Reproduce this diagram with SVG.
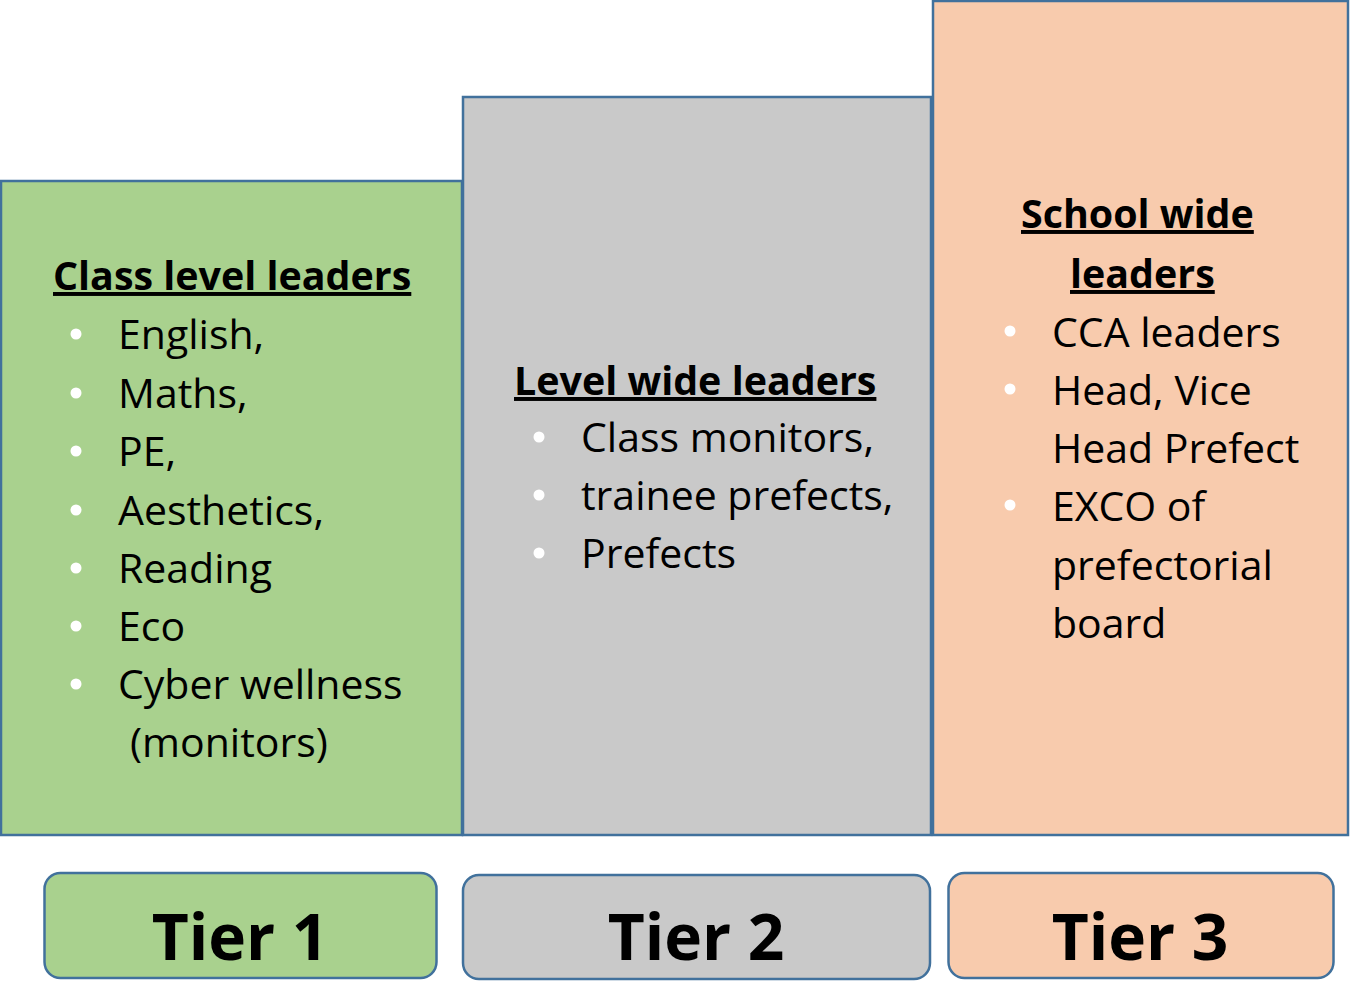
<svg xmlns="http://www.w3.org/2000/svg" width="1357" height="986" viewBox="0 0 1357 986">
<style>
.box{stroke:#41719C;stroke-width:2.5}
.g{fill:#A9D18E}
.gr{fill:#C9C9C9}
.p{fill:#F8CBAD}
.h{font-family:"Open Sans","Noto Sans",sans-serif;font-weight:bold;font-size:39.4px;fill:#000;text-decoration:underline}
.t{font-family:"Open Sans","Noto Sans",sans-serif;font-size:41px;fill:#000}
.tier{font-family:"Open Sans","Noto Sans",sans-serif;font-weight:bold;font-size:64px;fill:#000;text-anchor:middle}
.b{fill:#fff}
</style>
<rect width="1357" height="986" fill="#fff"/>
<g id="tier1-panel">
<rect class="box g" x="1" y="181" width="461" height="654"/>
<text class="h" x="53" y="290">Class level leaders</text>
<circle class="b" cx="76" cy="334" r="5.5"/><text class="t" x="118" y="349">English,</text>
<circle class="b" cx="76" cy="393" r="5.5"/><text class="t" x="118" y="408">Maths,</text>
<circle class="b" cx="76" cy="451" r="5.5"/><text class="t" x="118" y="466">PE,</text>
<circle class="b" cx="76" cy="510" r="5.5"/><text class="t" x="118" y="525">Aesthetics,</text>
<circle class="b" cx="76" cy="568" r="5.5"/><text class="t" x="118" y="583">Reading</text>
<circle class="b" cx="76" cy="626" r="5.5"/><text class="t" x="118" y="641">Eco</text>
<circle class="b" cx="76" cy="684" r="5.5"/><text class="t" x="118" y="699">Cyber wellness</text>
<text class="t" x="130" y="757">(monitors)</text>
</g>
<g id="tier2-panel">
<rect class="box gr" x="463" y="97" width="468" height="738"/>
<text class="h" x="514" y="395">Level wide leaders</text>
<circle class="b" cx="539" cy="437" r="5.5"/><text class="t" x="581" y="452">Class monitors,</text>
<circle class="b" cx="539" cy="495" r="5.5"/><text class="t" x="581" y="510">trainee prefects,</text>
<circle class="b" cx="539" cy="553" r="5.5"/><text class="t" x="581" y="568">Prefects</text>
</g>
<g id="tier3-panel">
<rect class="box p" x="933" y="1" width="415" height="834"/>
<text class="h" x="1021" y="228">School wide</text>
<text class="h" x="1070" y="288">leaders</text>
<circle class="b" cx="1010" cy="331" r="5.5"/><text class="t" x="1052" y="347">CCA leaders</text>
<circle class="b" cx="1010" cy="389" r="5.5"/><text class="t" x="1052" y="405">Head, Vice</text>
<text class="t" x="1052" y="463">Head Prefect</text>
<circle class="b" cx="1010" cy="505" r="5.5"/><text class="t" x="1052" y="521">EXCO of</text>
<text class="t" x="1052" y="580">prefectorial</text>
<text class="t" x="1052" y="638">board</text>
</g>
<g id="tier1-label">
<rect class="box g" x="44.5" y="873" width="392" height="105" rx="16"/>
<text class="tier" x="240" y="960">Tier 1</text>
</g>
<g id="tier2-label">
<rect class="box gr" x="463" y="875" width="467" height="104" rx="16"/>
<text class="tier" x="696" y="960">Tier 2</text>
</g>
<g id="tier3-label">
<rect class="box p" x="948.5" y="873" width="385" height="105" rx="16"/>
<text class="tier" x="1140" y="960">Tier 3</text>
</g>
<g id="connectors"/>
</svg>
